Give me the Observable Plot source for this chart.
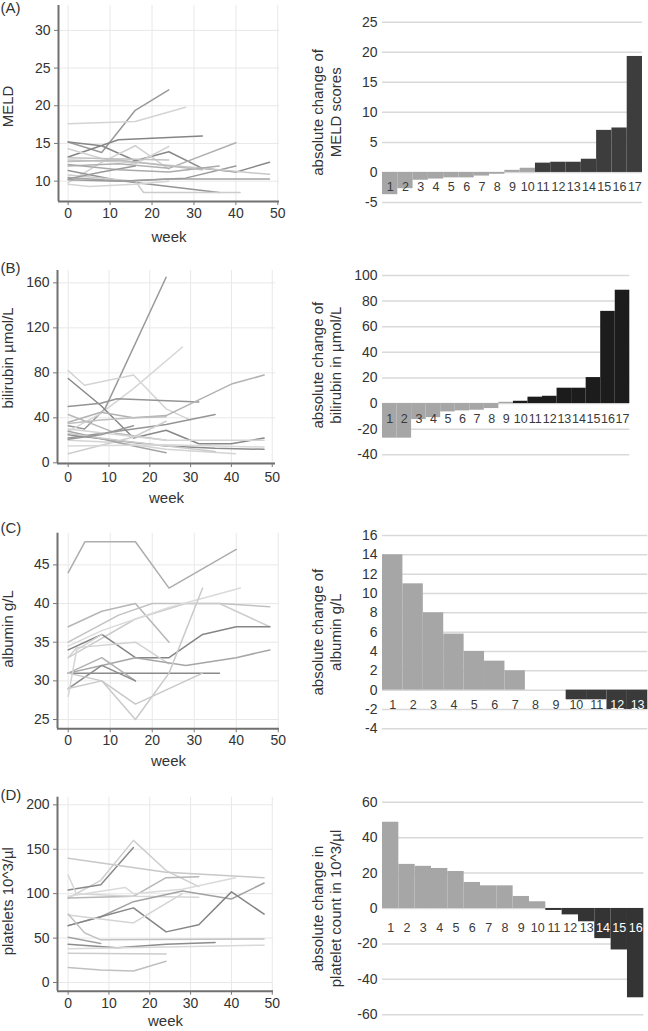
<!DOCTYPE html>
<html><head><meta charset="utf-8">
<script src="https://cdn.jsdelivr.net/npm/d3@7"></script>
<script src="https://cdn.jsdelivr.net/npm/@observablehq/plot@0.6"></script>
<style>
body{margin:0;background:#fff;font-family:"Liberation Sans",Arial,sans-serif;}
#root{position:relative;width:648px;height:1031px;overflow:hidden;background:#fff;}
.panel{position:absolute;}
</style></head><body><div id="root"></div>
<script>
// ---------- DATA ----------
const weekTicks = [0, 10, 20, 30, 40, 50];

// (A) MELD
const meldWeeks = [
  [0,8,16,24],[0,16,28],[0,12,32],[0,8,16,24,32,40,48],[0,8,16,24],[0,12,24,40],
  [0,12,24,36],[0,16,18,41],[0,5,16,24],[0,13,24,48],[0,12,28,40],[0,16,32,48],
  [0,12,24,36],[0,8,16],[0,8,16,24],[0,8,24],[0,12,24,32]
];
const meldValues = [
  [15.2,13.8,19.4,22.1],[17.6,17.9,19.8],[13.2,15.5,16.0],[15.2,14.7,12.7,13.9,11.7,11.2,12.5],
  [9.8,12.5,14.7,11.6],[12.0,12.3,11.7,15.1],[11.4,10.1,9.3,8.5],[10.8,10.0,8.5,8.5],
  [9.6,9.3,9.6,10.0],[10.5,10.0,10.3,10.3],[10.2,10.0,10.4,12.0],[12.8,12.5,11.7,10.9],
  [12.2,11.5,11.2,12.0],[10.3,11.2,12.0],[14.3,13.0,12.3,14.6],[13.1,13.0,12.8],[12.6,12.8,12.0,11.5]
];
const meldTicks = [10, 15, 20, 25, 30];
const meldPatients = [1,2,3,4,5,6,7,8,9,10,11,12,13,14,15,16,17];
const meldChange = [-3.7,-2.7,-1.3,-1.1,-0.9,-0.9,-0.6,-0.3,0.35,0.7,1.55,1.7,1.7,2.2,7.0,7.4,19.3];
const meldGroup = ["down","down","down","down","down","down","down","down","down","down","up","up","up","up","up","up","up"];
const meldChangeTicks = [-5, 0, 5, 10, 15, 20, 25];

// (B) bilirubin
const biliWeeks = [
  [0,4,9,24],[0,4,16,24,30],[0,8,16,28],[0,8,16,24,32,40,48],[0,8,12,32],[0,8,16,24,32,40,48],
  [0,12,24,36],[0,12,24],[0,16,24],[0,16,24,36,48],[0,12,24,41],[0,16,24],
  [0,24,32,48],[0,12,36],[0,8,16],[0,24,48],[0,8,16,24]
];
const biliValues = [
  [33,30,48,165],[82,69,78,48,38],[28,44,66,103],[75,51,22,29,17,17,22],[50,53,57,54],
  [36,45,40,42,56,70,78],[22,28,34,43],[43,26,20],[8,23,37],[25,18,15,13,12],[20,18,12,8],
  [28,15,9],[30,20,20,20],[26,20,10],[21,25,33],[15,16,14],[35,38,40,41]
];
const biliTicks = [0, 40, 80, 120, 160];
const biliPatients = [1,2,3,4,5,6,7,8,9,10,11,12,13,14,15,16,17];
const biliChange = [-27,-27,-12.5,-11,-6.5,-5.7,-5.2,-3.9,1,1.8,5,5.7,12,12,20.3,72,88.5];
const biliGroup = ["down","down","down","down","down","down","down","down","down","up","up","up","up","up","up","up","up"];
const biliChangeTicks = [-40, -20, 0, 20, 40, 60, 80, 100];

// (C) albumin
const albWeeks = [
  [0,4,16,24,40],[0,8,16,24],[0,12,20,36,48],[0,16,28,36,48],[0,8,24,41],[0,8,16,24,32,40,48],
  [0,2,16,24],[0,8,16,28,40,48],[0,36],[0,8,16],[0,8,16],[0,8,16,32],[0,8,16,24,32],[0,2,8]
];
const albValues = [
  [44,48,48,42,47],[37,39,40,35],[35,38.5,40,40,39.6],[33,38,40,40,37],[34.5,36.5,39.5,42],
  [34,36,33,33,36,37,37],[33,34.3,35,32.2],[31,32,33,32,33,34],[31,31],[31,33,30],[29,32,30],
  [31,30,27,31],[29,30,25,31,42],[28,34,36]
];
const albTicks = [25, 30, 35, 40, 45];
const albPatients = [1,2,3,4,5,6,7,8,9,10,11,12,13];
const albChange = [14,11,8,5.8,4,3,2,0,0,-1,-1,-2,-2];
const albGroup = ["up","up","up","up","up","up","up","up","up","down","down","down","down"];
const albChangeTicks = [-4, -2, 0, 2, 4, 6, 8, 10, 12, 14, 16];

// (D) platelets
const pltWeeks = [
  [0,8,16,24,32],[0,8,16],[0,24,48],[0,16,24,32],[0,2,16,32],[0,14,16,28,41],
  [0,8,16,28,40,48],[0,8,16,24,32,40,48],[0,16,28],[0,4,8,48],[0,8],[0,12,24,36],
  [0,24,48],[0,24],[0,8,16,24]
];
const pltValues = [
  [95,115,160,126,108],[104,110,152],[140,124,118],[95,97,118,119],[121,100,97,96],
  [97,107,100,105,118],[64,74,91,103,94,112],[64,74,84,57,65,102,77],[76,67,100],
  [77,56,48,49],[51,44],[43,39,43,45],[38,40,42],[33,32],[17,14,13,24]
];
const pltTicks = [0, 50, 100, 150, 200];
const pltPatients = [1,2,3,4,5,6,7,8,9,10,11,12,13,14,15,16];
const pltChange = [48.7,24.9,23.8,22.6,20.9,14.7,12.8,12.8,6.8,3.8,-1.1,-3.6,-7.5,-17,-23.4,-50.4];
const pltGroup = ["up","up","up","up","up","up","up","up","up","up","down","down","down","down","down","down"];
const pltChangeTicks = [-60, -40, -20, 0, 20, 40, 60];

// ---------- STYLES ----------
const FONT = "Liberation Sans, Arial, Helvetica, sans-serif";
const meldGrays = ["#999999","#d4d4d4","#858585","#888888","#d0d0d0","#b0b0b0","#959595","#cccccc","#d4d4d4","#a4a4a4","#9a9a9a","#c8c8c8","#aaaaaa","#9a9a9a","#d2d2d2","#c2c2c2","#bbbbbb"];
const biliGrays = ["#999999","#d4d4d4","#d6d6d6","#888888","#949494","#b2b2b2","#959595","#b8b8b8","#cecece","#8a8a8a","#d4d4d4","#a4a4a4","#d4d4d4","#cacaca","#989898","#d8d8d8","#bfbfbf"];
const albGrays = ["#adadad","#b6b6b6","#c2c2c2","#cccccc","#dadada","#858585","#d2d2d2","#a6a6a6","#8a8a8a","#b0b0b0","#8c8c8c","#c8c8c8","#cacaca","#d4d4d4"];
const pltGrays = ["#cecece","#8a8a8a","#c8c8c8","#b6b6b6","#d6d6d6","#dadada","#a2a2a2","#858585","#d4d4d4","#c2c2c2","#a2a2a2","#8c8c8c","#d8d8d8","#cccccc","#c0c0c0"];

const root = document.getElementById("root");
function place(el, left, top) {
  const d = document.createElement("div");
  d.className = "panel";
  d.style.left = left + "px";
  d.style.top = top + "px";
  d.appendChild(el);
  root.appendChild(d);
}

function spaghetti(o) {
  const rows = o.weeks.flatMap((ws, i) => ws.map((w, j) => ({id: i, week: w, value: o.values[i][j]})));
  const svg = Plot.plot({
    width: 300, height: o.height,
    marginLeft: o.mL, marginRight: o.mR, marginTop: o.mT, marginBottom: o.mB,
    style: {fontFamily: FONT, background: "transparent", color: "#333"},
    x: {domain: o.xDomain},
    y: {domain: o.yDomain},
    color: {type: "ordinal", domain: d3.range(o.weeks.length), range: o.grays},
    marks: [
      Plot.gridX(weekTicks, {stroke: "#e8e8e8", strokeOpacity: 1}),
      Plot.gridY(o.yTicks, {stroke: "#e8e8e8", strokeOpacity: 1}),
      Plot.line(rows, {x: "week", y: "value", z: "id", stroke: "id", strokeWidth: 1.5}),
      Plot.ruleX([o.xDomain[0]], {stroke: "#707070", strokeWidth: 2}),
      Plot.ruleY([o.yDomain[0]], {stroke: "#707070", strokeWidth: 2}),
      Plot.axisX(weekTicks, {tickSize: 4, tickPadding: o.xPad, stroke: "#777", fill: "#333", fontSize: 14, label: null}),
      Plot.axisY(o.yTicks, {tickSize: 4, tickPadding: 4, stroke: "#777", fill: "#333", fontSize: 14, label: null}),
      Plot.text([o.yLabel], {frameAnchor: "left", rotate: -90, textAnchor: "middle", lineAnchor: "middle", dx: 8 - o.mL, dy: o.titleDy, fontSize: 15, fill: "#333"}),
      Plot.text(["week"], {frameAnchor: "bottom", textAnchor: "middle", lineAnchor: "middle", dy: o.weekDy, fontSize: 15, fill: "#333"}),
      Plot.text([o.letter], {frameAnchor: "top-left", textAnchor: "start", lineAnchor: "middle", dx: -o.mL, dy: o.letterDy, fontSize: 15, fill: "#333"})
    ]
  });
  place(svg, 0, o.top);
}

function waterfall(o) {
  const rows = o.patients.map((p, i) => ({patient: p, change: o.change[i], group: o.group[i]}));
  const innerH = o.height - o.mT - o.mB;
  const unitPx = innerH / (o.yDomain[1] - o.yDomain[0]);
  const labelValue = -o.labelDy / unitPx; // value at label centre
  const covered = d => d.group === o.darkGroup && d.change < labelValue;
  const svg = Plot.plot({
    width: 348, height: o.height,
    marginLeft: 82, marginRight: o.mR, marginTop: o.mT, marginBottom: o.mB,
    style: {fontFamily: FONT, background: "transparent", color: "#333"},
    x: {type: "band", domain: o.patients, padding: 0, round: false, axis: null},
    y: {domain: o.yDomain, axis: null},
    color: {domain: [o.darkGroup === "up" ? "down" : "up", o.darkGroup], range: ["#a6a6a6", o.dark]},
    marks: [
      Plot.ruleY(o.ticks, {stroke: "#d9d9d9", strokeWidth: 1.5}),
      Plot.barY(rows, {x: "patient", y: "change", fill: "group"}),
      Plot.axisY(o.ticks, {tickSize: 0, tickPadding: 5, fill: "#333", fontSize: 14, label: null, tickFormat: d => String(d)}),
      Plot.text(rows, {filter: d => !covered(d), x: "patient", y: () => 0, dy: o.labelDy, text: d => String(d.patient), fill: "#3a3a3a", fontSize: 12.5}),
      Plot.text(rows, {filter: d => covered(d), x: "patient", y: () => 0, dy: o.labelDy, text: d => String(d.patient), fill: "#ffffff", fontSize: 12.5}),
      Plot.text([o.title], {frameAnchor: "left", rotate: -90, textAnchor: "middle", lineAnchor: "middle", lineHeight: 1.15, dx: -56, fontSize: 15, fill: "#333"})
    ]
  });
  place(svg, 300, o.top);
}

// (A)
spaghetti({weeks: meldWeeks, values: meldValues, grays: meldGrays, top: 0, height: 250,
  mL: 58, mR: 21, mT: 5, mB: 49, xDomain: [-2.3, 50.4], yDomain: [7.3, 33.3], yTicks: meldTicks,
  yLabel: "MELD", letter: "(A)", letterDy: 2.5, titleDy: 3, weekDy: 36, xPad: 3});
waterfall({patients: meldPatients, change: meldChange, group: meldGroup, darkGroup: "up", dark: "#3d3d3d",
  top: 0, height: 250, mR: 6, mT: 21.7, mB: 48, yDomain: [-5, 25], ticks: meldChangeTicks, labelDy: 15,
  title: "absolute change of\nMELD scores"});

// (B)
spaghetti({weeks: biliWeeks, values: biliValues, grays: biliGrays, top: 250, height: 260,
  mL: 57, mR: 25, mT: 20, mB: 47, xDomain: [-2.62, 50.8], yDomain: [-0.6, 171], yTicks: biliTicks,
  yLabel: "bilirubin µmol/L", letter: "(B)", letterDy: -2.5, titleDy: -9, weekDy: 35, xPad: 5});
waterfall({patients: biliPatients, change: biliChange, group: biliGroup, darkGroup: "up", dark: "#1c1c1c",
  top: 250, height: 260, mR: 18.7, mT: 25, mB: 55.7, yDomain: [-40, 100], ticks: biliChangeTicks, labelDy: 15,
  title: "absolute change of\nbilirubin in µmol/L"});

// (C)
spaghetti({weeks: albWeeks, values: albValues, grays: albGrays, top: 510, height: 260,
  mL: 57, mR: 21, mT: 22.7, mB: 41.7, xDomain: [-2.55, 50.3], yDomain: [23.8, 49.1], yTicks: albTicks,
  yLabel: "albumin g/L", letter: "(C)", letterDy: -5.2, titleDy: -2, weekDy: 32, xPad: 2});
waterfall({patients: albPatients, change: albChange, group: albGroup, darkGroup: "down", dark: "#3a3a3a",
  top: 510, height: 260, mR: 0.7, mT: 25, mB: 41.7, yDomain: [-4, 16], ticks: albChangeTicks, labelDy: 15,
  title: "absolute change of\nalbumin g/L"});

// (D)
spaghetti({weeks: pltWeeks, values: pltValues, grays: pltGrays, top: 770, height: 261,
  mL: 57, mR: 27, mT: 26.7, mB: 40.3, xDomain: [-2.6, 50.3], yDomain: [-9.8, 208.6], yTicks: pltTicks,
  yLabel: "platelets 10^3/µl", letter: "(D)", letterDy: -2.2, titleDy: 7, weekDy: 30, xPad: 3});
waterfall({patients: pltPatients, change: pltChange, group: pltGroup, darkGroup: "down", dark: "#343434",
  top: 770, height: 261, mR: 4.7, mT: 31.7, mB: 16.7, yDomain: [-60, 60], ticks: pltChangeTicks, labelDy: 19,
  title: "absolute change in\nplatelet count in 10^3/µl"});
</script>
</body></html>
